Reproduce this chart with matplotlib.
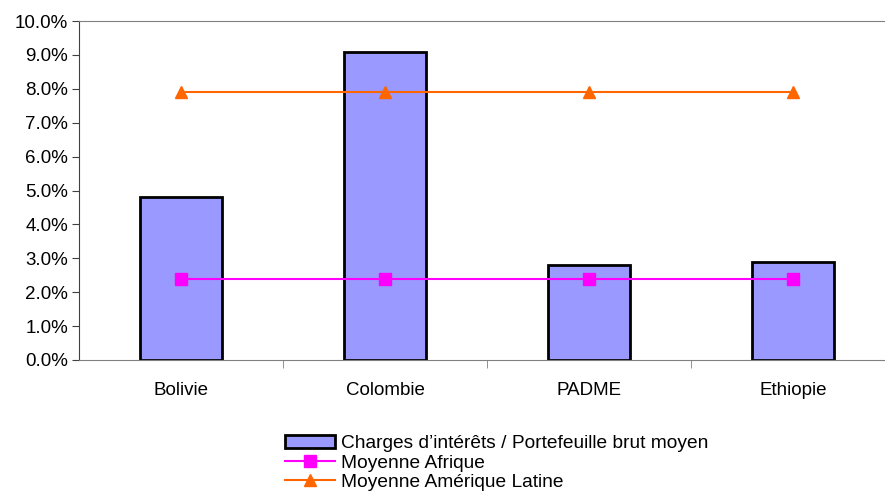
import matplotlib.pyplot as plt
from matplotlib.ticker import FuncFormatter

# data
categories = ["Bolivie", "Colombie", "PADME", "Ethiopie"]
charges = [4.8, 9.1, 2.8, 2.9]
moy_afrique = [2.4, 2.4, 2.4, 2.4]
moy_amerique = [7.9, 7.9, 7.9, 7.9]
yticks = [0, 1, 2, 3, 4, 5, 6, 7, 8, 9, 10]

plt.rcParams['font.family'] = ['Liberation Sans', 'DejaVu Sans']

fig = plt.figure(figsize=(8.85, 4.92), dpi=100)
ax = fig.add_axes([0.0893, 0.2683, 0.922, 0.689])

x = list(range(len(categories)))
b = ax.bar(x, charges, width=0.4, color="#9999FF", edgecolor="black", linewidth=2,
           label="Charges d\u2019intérêts / Portefeuille brut moyen", zorder=2)
l1, = ax.plot(x, moy_afrique, color="#FF00FF", marker="s", markersize=9, linewidth=1.5,
              label="Moyenne Afrique", zorder=3)
l2, = ax.plot(x, moy_amerique, color="#FF6600", marker="^", markersize=9, linewidth=1.5,
              label="Moyenne Amérique Latine", zorder=3)

ax.set_xlim(-0.5, len(categories) - 0.5)
ax.set_ylim(0, 10)
ax.set_yticks(yticks)
ax.yaxis.set_major_formatter(FuncFormatter(lambda v, p: f"{v:.1f}%"))
ax.set_xticks(x)
ax.set_xticklabels(categories)
ax.set_xticks([i + 0.5 for i in x[:-1]], minor=True)
ax.tick_params(axis="x", which="major", length=0, pad=16, labelsize=13.5)
ax.tick_params(axis="x", which="minor", length=6, color="#808080")
ax.tick_params(axis="y", length=5, color="#404040", labelsize=13.5, pad=3)

for s in ["top", "bottom", "right"]:
    ax.spines[s].set_color("#808080")
ax.spines["left"].set_color("#404040")

fig.legend([b, l1, l2], [b.get_label(), l1.get_label(), l2.get_label()],
           loc="upper left", bbox_to_anchor=(285 / 885, 1 - 435 / 492),
           frameon=False, fontsize=13.8, handlelength=2.6, handletextpad=0.3,
           labelspacing=0.1, borderpad=0, borderaxespad=0)

fig.savefig("out.png", dpi=100)
